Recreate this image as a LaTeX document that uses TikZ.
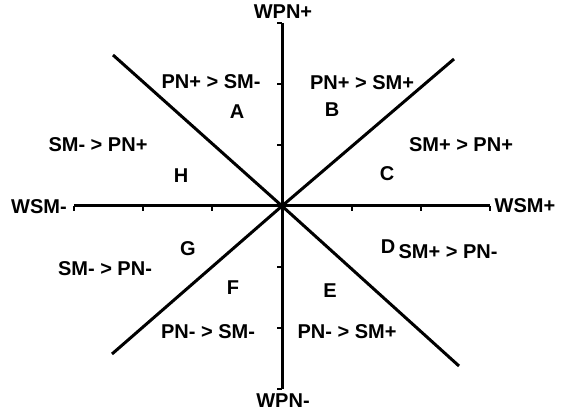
\documentclass[tikz,border=0pt]{standalone}
\usepackage{fontspec}
\setmainfont{Liberation Sans}
\begin{document}
\begin{tikzpicture}[x=1pt,y=-1pt,
  lbl/.style={inner sep=0pt,font=\fontsize{20}{20}\selectfont\bfseries},
  axisline/.style={line width=3pt},
  tickline/.style={line width=1.4pt}]
\useasboundingbox (0,0) rectangle (562,411);
% key points
\coordinate (O) at (282,206);
\coordinate (Vt) at (282,23);
\coordinate (Vb) at (282,389);
\coordinate (Hl) at (74,206);
\coordinate (Hr) at (490,206);
\coordinate (UL) at (113,55);
\coordinate (UR) at (454,59);
\coordinate (LL) at (112,354);
\coordinate (LR) at (459,366);
% axes
\draw[axisline] (Vt) -- (Vb);
\draw[axisline] (Hl) -- (Hr);
\draw[axisline] (UL) -- (O) -- (LR);
\draw[axisline] (LL) -- (O) -- (UR);
% ticks on vertical axis (to the left)
\foreach \yy in {23,84,145,267,328,389}
  \draw[tickline] (282,\yy) -- ++(-5,0);
% ticks on horizontal axis (downward)
\foreach \xx in {74,143,212,352,421,490}
  \draw[tickline] (\xx,206) -- ++(0,5);
% axis labels
\node[lbl] (wpnp) at (283,12) {WPN+};
\node[lbl] (wpnm) at (283,401) {WPN-};
\node[lbl] (wsmm) at (39,207) {WSM-};
\node[lbl] (wsmp) at (525,206) {WSM+};
% region texts
\node[lbl] (ta) at (211,82) {PN+ > SM-};
\node[lbl] (la) at (237,112) {A};
\node[lbl] (tb) at (362,83) {PN+ > SM+};
\node[lbl] (lb) at (332,110) {B};
\node[lbl] (tc) at (461,145) {SM+ > PN+};
\node[lbl] (lc) at (387,174) {C};
\node[lbl] (th) at (98,145) {SM- > PN+};
\node[lbl] (lh) at (181,176) {H};
\node[lbl] (tg) at (105,269) {SM- > PN-};
\node[lbl] (lg) at (188,249) {G};
\node[lbl] (td) at (448,252) {SM+ > PN-};
\node[lbl] (ld) at (388,247) {D};
\node[lbl] (tf) at (208,332) {PN- > SM-};
\node[lbl] (lf) at (233,288) {F};
\node[lbl] (te) at (347,332) {PN- > SM+};
\node[lbl] (le) at (330,291) {E};
\end{tikzpicture}
\end{document}
